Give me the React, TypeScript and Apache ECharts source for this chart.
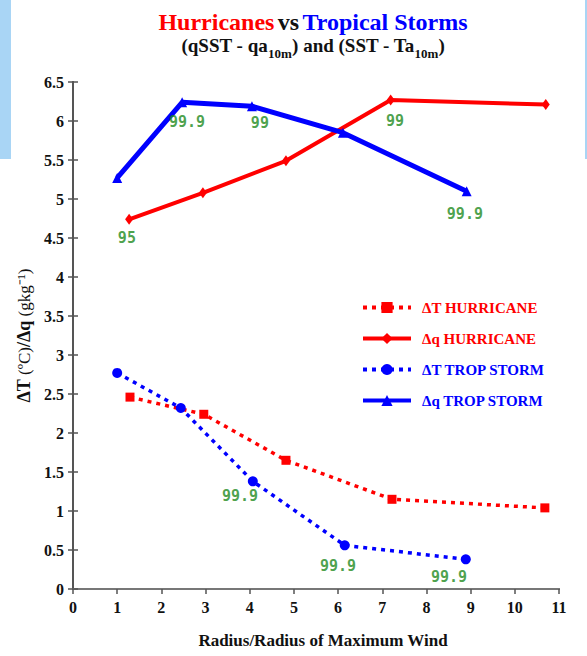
import React from 'react';
import * as echarts from 'echarts';

// Values
const dtHurrX = [1.29, 2.96, 4.82, 7.22, 10.68];
const dtHurrY = [2.46, 2.24, 1.65, 1.15, 1.04];
const dqHurrX = [1.27, 2.94, 4.82, 7.19, 10.7];
const dqHurrY = [4.74, 5.08, 5.49, 6.27, 6.21];
const dtTropX = [1.0, 2.44, 4.07, 6.15, 8.89];
const dtTropY = [2.77, 2.32, 1.38, 0.56, 0.38];
const dqTropX = [1.0, 2.47, 4.05, 6.11, 8.91];
const dqTropY = [5.27, 6.24, 6.19, 5.85, 5.1];

// significance labels (%)
const sigText = ['95', '99.9', '99', '99', '99.9', '99.9', '99.9', '99.9'];
const sigX = [1.22, 2.58, 4.23, 7.29, 8.87, 3.78, 6.0, 8.51];
const sigY = [4.5, 5.99, 5.97, 6.0, 4.81, 1.19, 0.29, 0.15];

const seriesNames = ['ΔT HURRICANE', 'Δq HURRICANE', 'ΔT TROP STORM', 'Δq TROP STORM'];

const RED = '#ff0000';
const BLUE = '#0000ff';
const GREEN = '#1d8a1d';
const SERIF = '"Liberation Serif", "Times New Roman", serif';

const pairs = (xs: number[], ys: number[]) => xs.map((x, i) => [x, ys[i]]);

const App: React.FC = () => {
  const chartRef = React.useRef<HTMLDivElement>(null);

  React.useEffect(() => {
    document.body.style.margin = '0';
    if (!chartRef.current) return;
    const chart = echarts.init(chartRef.current, undefined, { renderer: 'svg' });

    const axisLabel = { fontFamily: SERIF, fontWeight: 'bold' as const, fontSize: 16, color: '#111' };
    const axisLine = { show: true, lineStyle: { color: '#555', width: 2 } };

    chart.setOption({
      animation: false,
      backgroundColor: '#fff',
      grid: { left: 73, right: 28, top: 82, bottom: 67 },
      graphic: [
        { type: 'rect', shape: { x: 0, y: 0, width: 11, height: 159 }, style: { fill: '#a9d5f5' }, silent: true },
        { type: 'rect', shape: { x: 585, y: 0, width: 2, height: 159 }, style: { fill: '#a9d5f5' }, silent: true },
        {
          type: 'text',
          x: 313,
          y: 22,
          style: {
            text: '{r|Hurricanes} {k|vs} {b|Tropical Storms}',
            align: 'center',
            verticalAlign: 'middle',
            rich: {
              r: { fontFamily: SERIF, fontWeight: 'bold', fontSize: 24, fill: RED },
              k: { fontFamily: SERIF, fontWeight: 'bold', fontSize: 24, fill: '#111' },
              b: { fontFamily: SERIF, fontWeight: 'bold', fontSize: 24, fill: BLUE },
            },
          },
        },
        {
          type: 'text',
          x: 313,
          y: 48,
          style: {
            text: '{m|(qSST - qa}{s|10m}{m|) and (SST - Ta}{s|10m}{m|)}',
            align: 'center',
            verticalAlign: 'middle',
            rich: {
              m: { fontFamily: SERIF, fontWeight: 'bold', fontSize: 19, fill: '#111', lineHeight: 24, verticalAlign: 'top' },
              s: { fontFamily: SERIF, fontWeight: 'bold', fontSize: 13, fill: '#111', lineHeight: 13, verticalAlign: 'bottom' },
            },
          },
        },
      ],
      legend: {
        orient: 'vertical',
        left: 356,
        top: 295,
        itemWidth: 48,
        itemHeight: 14,
        itemGap: 16,
        selectedMode: false,
        lineStyle: { width: 4 },
        data: [
          { name: seriesNames[0], textStyle: { color: RED } },
          { name: seriesNames[1], textStyle: { color: RED } },
          { name: seriesNames[2], textStyle: { color: BLUE } },
          { name: seriesNames[3], textStyle: { color: BLUE } },
        ],
        textStyle: { fontFamily: SERIF, fontWeight: 'bold', fontSize: 15, padding: [0, 0, 0, 6] },
      },
      xAxis: [
        {
          type: 'value',
          min: 0,
          max: 11,
          interval: 1,
          axisLine,
          axisTick: { show: true, length: 5, lineStyle: { color: '#555', width: 1.5 } },
          axisLabel: { ...axisLabel, margin: 10 },
          splitLine: { show: false },
          name: 'Radius/Radius of Maximum Wind',
          nameLocation: 'middle',
          nameGap: 43,
          nameTextStyle: { fontFamily: SERIF, fontWeight: 'bold', fontSize: 17, color: '#111', padding: [0, 0, 0, 14] },
        },
        {
          type: 'value',
          position: 'top',
          min: 0,
          max: 11,
          interval: 1,
          axisLine: { show: true, lineStyle: { color: '#777', width: 2 } },
          axisTick: { show: false },
          axisLabel: { show: false },
          splitLine: { show: false },
        },
      ],
      yAxis: [
        {
          type: 'value',
          min: 0,
          max: 6.5,
          interval: 0.5,
          axisLine,
          axisTick: { show: true, length: 5, lineStyle: { color: '#555', width: 1.5 } },
          axisLabel: { ...axisLabel, margin: 9 },
          splitLine: { show: false },
          name: '{b|ΔT} {n|(ºC)}{b|/Δq} {n|(gkg⁻¹)}',
          nameLocation: 'middle',
          nameRotate: 90,
          nameGap: 40,
          nameTextStyle: {
            fontFamily: SERIF,
            fontSize: 17,
            color: '#111',
            rich: {
              b: { fontFamily: SERIF, fontWeight: 'bold', fontSize: 18, color: '#111' },
              n: { fontFamily: SERIF, fontWeight: 'normal', fontSize: 17, color: '#111' },
            },
          },
        },
        {
          type: 'value',
          position: 'right',
          min: 0,
          max: 6.5,
          interval: 0.5,
          axisLine,
          axisTick: { show: true, length: 5, lineStyle: { color: '#555', width: 1.5 } },
          axisLabel: { show: false },
          splitLine: { show: false },
        },
      ],
      series: [
        {
          name: seriesNames[0],
          type: 'line',
          data: pairs(dtHurrX, dtHurrY),
          symbol: 'rect',
          symbolSize: 9,
          lineStyle: { color: RED, width: 3.5, type: [4, 5] },
          itemStyle: { color: RED },
        },
        {
          name: seriesNames[1],
          type: 'line',
          data: pairs(dqHurrX, dqHurrY),
          symbol: 'diamond',
          symbolSize: [8, 11],
          lineStyle: { color: RED, width: 4 },
          itemStyle: { color: RED },
        },
        {
          name: seriesNames[2],
          type: 'line',
          data: pairs(dtTropX, dtTropY),
          symbol: 'circle',
          symbolSize: 10,
          lineStyle: { color: BLUE, width: 3.5, type: [4, 5] },
          itemStyle: { color: BLUE },
        },
        {
          name: seriesNames[3],
          type: 'line',
          data: pairs(dqTropX, dqTropY),
          symbol: 'triangle',
          symbolSize: 10,
          lineStyle: { color: BLUE, width: 5 },
          itemStyle: { color: BLUE },
        },
        {
          name: 'significance',
          type: 'scatter',
          silent: true,
          symbolSize: 0,
          data: sigText.map((t, i) => ({ name: t, value: [sigX[i], sigY[i]] })),
          label: {
            show: true,
            position: 'inside',
            formatter: (p: any) => p.name,
            fontFamily: '"DejaVu Sans Mono", monospace',
            fontWeight: 'bold',
            fontSize: 15,
            color: GREEN,
          },
          z: 5,
        },
      ],
    });

    return () => {
      chart.dispose();
    };
  }, []);

  return <div ref={chartRef} style={{ width: 587, height: 656 }} />;
};

export default App;
